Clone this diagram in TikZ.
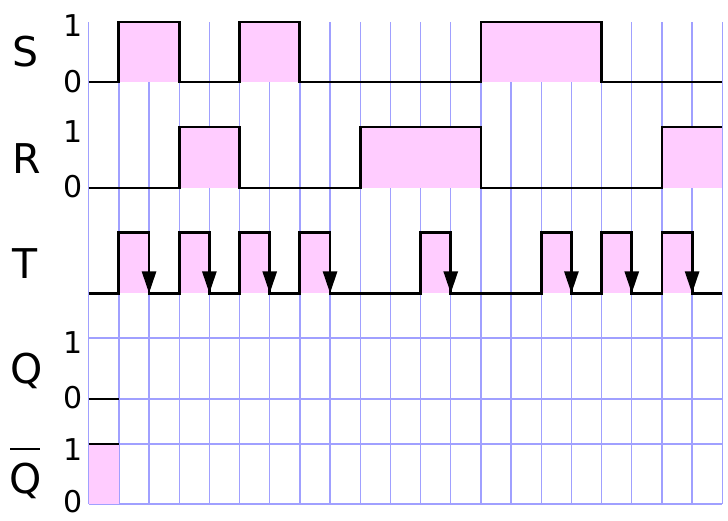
\documentclass[tikz,border=0pt]{standalone}
\usepackage{fontspec}
\setmainfont{DejaVu Sans}
\usetikzlibrary{arrows.meta}
\definecolor{gridc}{RGB}{160,160,255}
\definecolor{pinkc}{RGB}{255,204,255}
\begin{document}
\begin{tikzpicture}[x=1pt,y=-1pt,
  gridline/.style={draw=gridc, line width=1.4pt},
  wave/.style={draw=black, line width=2.8pt, line join=miter},
  hifill/.style={fill=pinkc},
  fall/.style={draw=black, -{Triangle[length=22pt,width=14pt]}, line width=2.8pt},
  siglabel/.style={font=\fontsize{41}{41}\selectfont, inner sep=0pt, anchor=base},
  levlabel/.style={font=\fontsize{30}{30}\selectfont, inner sep=0pt, anchor=east}]
\useasboundingbox (0,0) rectangle (728,520);
\fill[white] (0,0) rectangle (728,520);
\begin{scope}[xshift=88.7pt, x=30.17pt]
  % grid
  \foreach \k in {0,...,21} \draw[gridline] (\k,22) -- (\k,504);
  \foreach \h in {338,399,444,504} \draw[gridline] (0,\h) -- (21,\h);
  % fills
  \foreach \a/\b in {1/3,5/7,13/17} \fill[hifill] (\a,22) rectangle (\b,82);
  \foreach \a/\b in {3/5,9/13,19/21} \fill[hifill] (\a,127) rectangle (\b,188);
  \foreach \p in {1,3,5,7,11,15,17,19} \fill[hifill] (\p,232.3) rectangle (\p+1,293.3);
  \fill[hifill] (0,444) rectangle (1,504);
  % waveforms
  \draw[wave] (0,82) -- (1,82) -- (1,22) -- (3,22) -- (3,82) -- (5,82) -- (5,22) -- (7,22) -- (7,82)
     -- (13,82) -- (13,22) -- (17,22) -- (17,82) -- (21,82);
  \draw[wave] (0,188) -- (3,188) -- (3,127) -- (5,127) -- (5,188) -- (9,188) -- (9,127) -- (13,127)
     -- (13,188) -- (19,188) -- (19,127) -- (21,127);
  \draw[wave] (0,293.3) \foreach \p in {1,3,5,7,11,15,17,19} { -- (\p,293.3) -- (\p,232.3) -- (\p+1,232.3) -- (\p+1,293.3) } -- (21,293.3);
  \foreach \p in {1,3,5,7,11,15,17,19} \draw[fall] (\p+1,262) -- (\p+1,293.3);
  \draw[wave] (0,399) -- (1,399);
  \draw[wave] (0,444) -- (1,444);
\end{scope}
% signal names
\node[siglabel] (lS) at (25.5,66) {S};
\node[siglabel] (lR) at (27,173) {R};
\node[siglabel] (lT) at (25.5,278) {T};
\node[siglabel] (lQ) at (26.5,383) {Q};
\node[siglabel] (lQb) at (26,493) {\makebox[0pt][l]{\hspace{0.5pt}\rule[42.8pt]{30pt}{2.5pt}}Q};
% level labels
\node[levlabel] (s1) at (83,26) {1};
\node[levlabel] (s0) at (83,82) {0};
\node[levlabel] (r1) at (83,132) {1};
\node[levlabel] (r0) at (83,187) {0};
\node[levlabel] (q1) at (83,343) {1};
\node[levlabel] (q0) at (83,398) {0};
\node[levlabel] (qb1) at (83,450) {1};
\node[levlabel] (qb0) at (83,502) {0};
\end{tikzpicture}
\end{document}
